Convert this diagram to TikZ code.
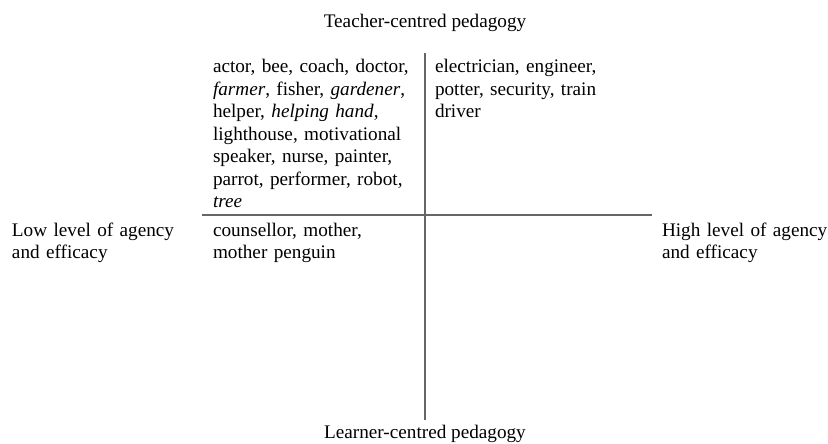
\documentclass[tikz,border=0pt]{standalone}
\usepackage{fontspec}
\setmainfont{Liberation Serif}
\begin{document}
\begin{tikzpicture}[
  x=1pt,y=-1pt,
  txt/.style={inner sep=0pt, outer sep=0pt, text=black, font=\fontsize{19.2}{22.5}\selectfont},
  blk/.style={txt, align=left, text width=215pt, anchor=base west},
  axis/.style={draw=black!60, line width=2pt}
]
\useasboundingbox (0,0) rectangle (828,444);
\node[txt, anchor=base] (teacher) at (425,28) {Teacher-centred pedagogy};
\node[txt, anchor=base] (learner) at (425,438) {Learner-centred pedagogy};
\node[blk, text width=185pt] (low) at (12,236) {Low level of agency\\and efficacy};
\node[blk, text width=185pt] (high) at (662,236) {High level of agency\\and efficacy};
\node[blk] (tl) at (213,73) {actor, bee, coach, doctor,\\\textit{farmer}, fisher, \textit{gardener},\\helper, \textit{helping hand},\\lighthouse, motivational\\speaker, nurse, painter,\\parrot, performer, robot,\\\textit{tree}};
\node[blk] (tr) at (435,73) {electrician, engineer,\\potter, security, train\\driver};
\node[blk] (bl) at (213,236) {counsellor, mother,\\mother penguin};
\coordinate (vtop) at (425,53);
\coordinate (vbot) at (425,420);
\coordinate (hleft) at (202,215);
\coordinate (hright) at (652,215);
\draw[axis] (vtop) -- (vbot);
\draw[axis] (hleft) -- (hright);
\end{tikzpicture}
\end{document}
